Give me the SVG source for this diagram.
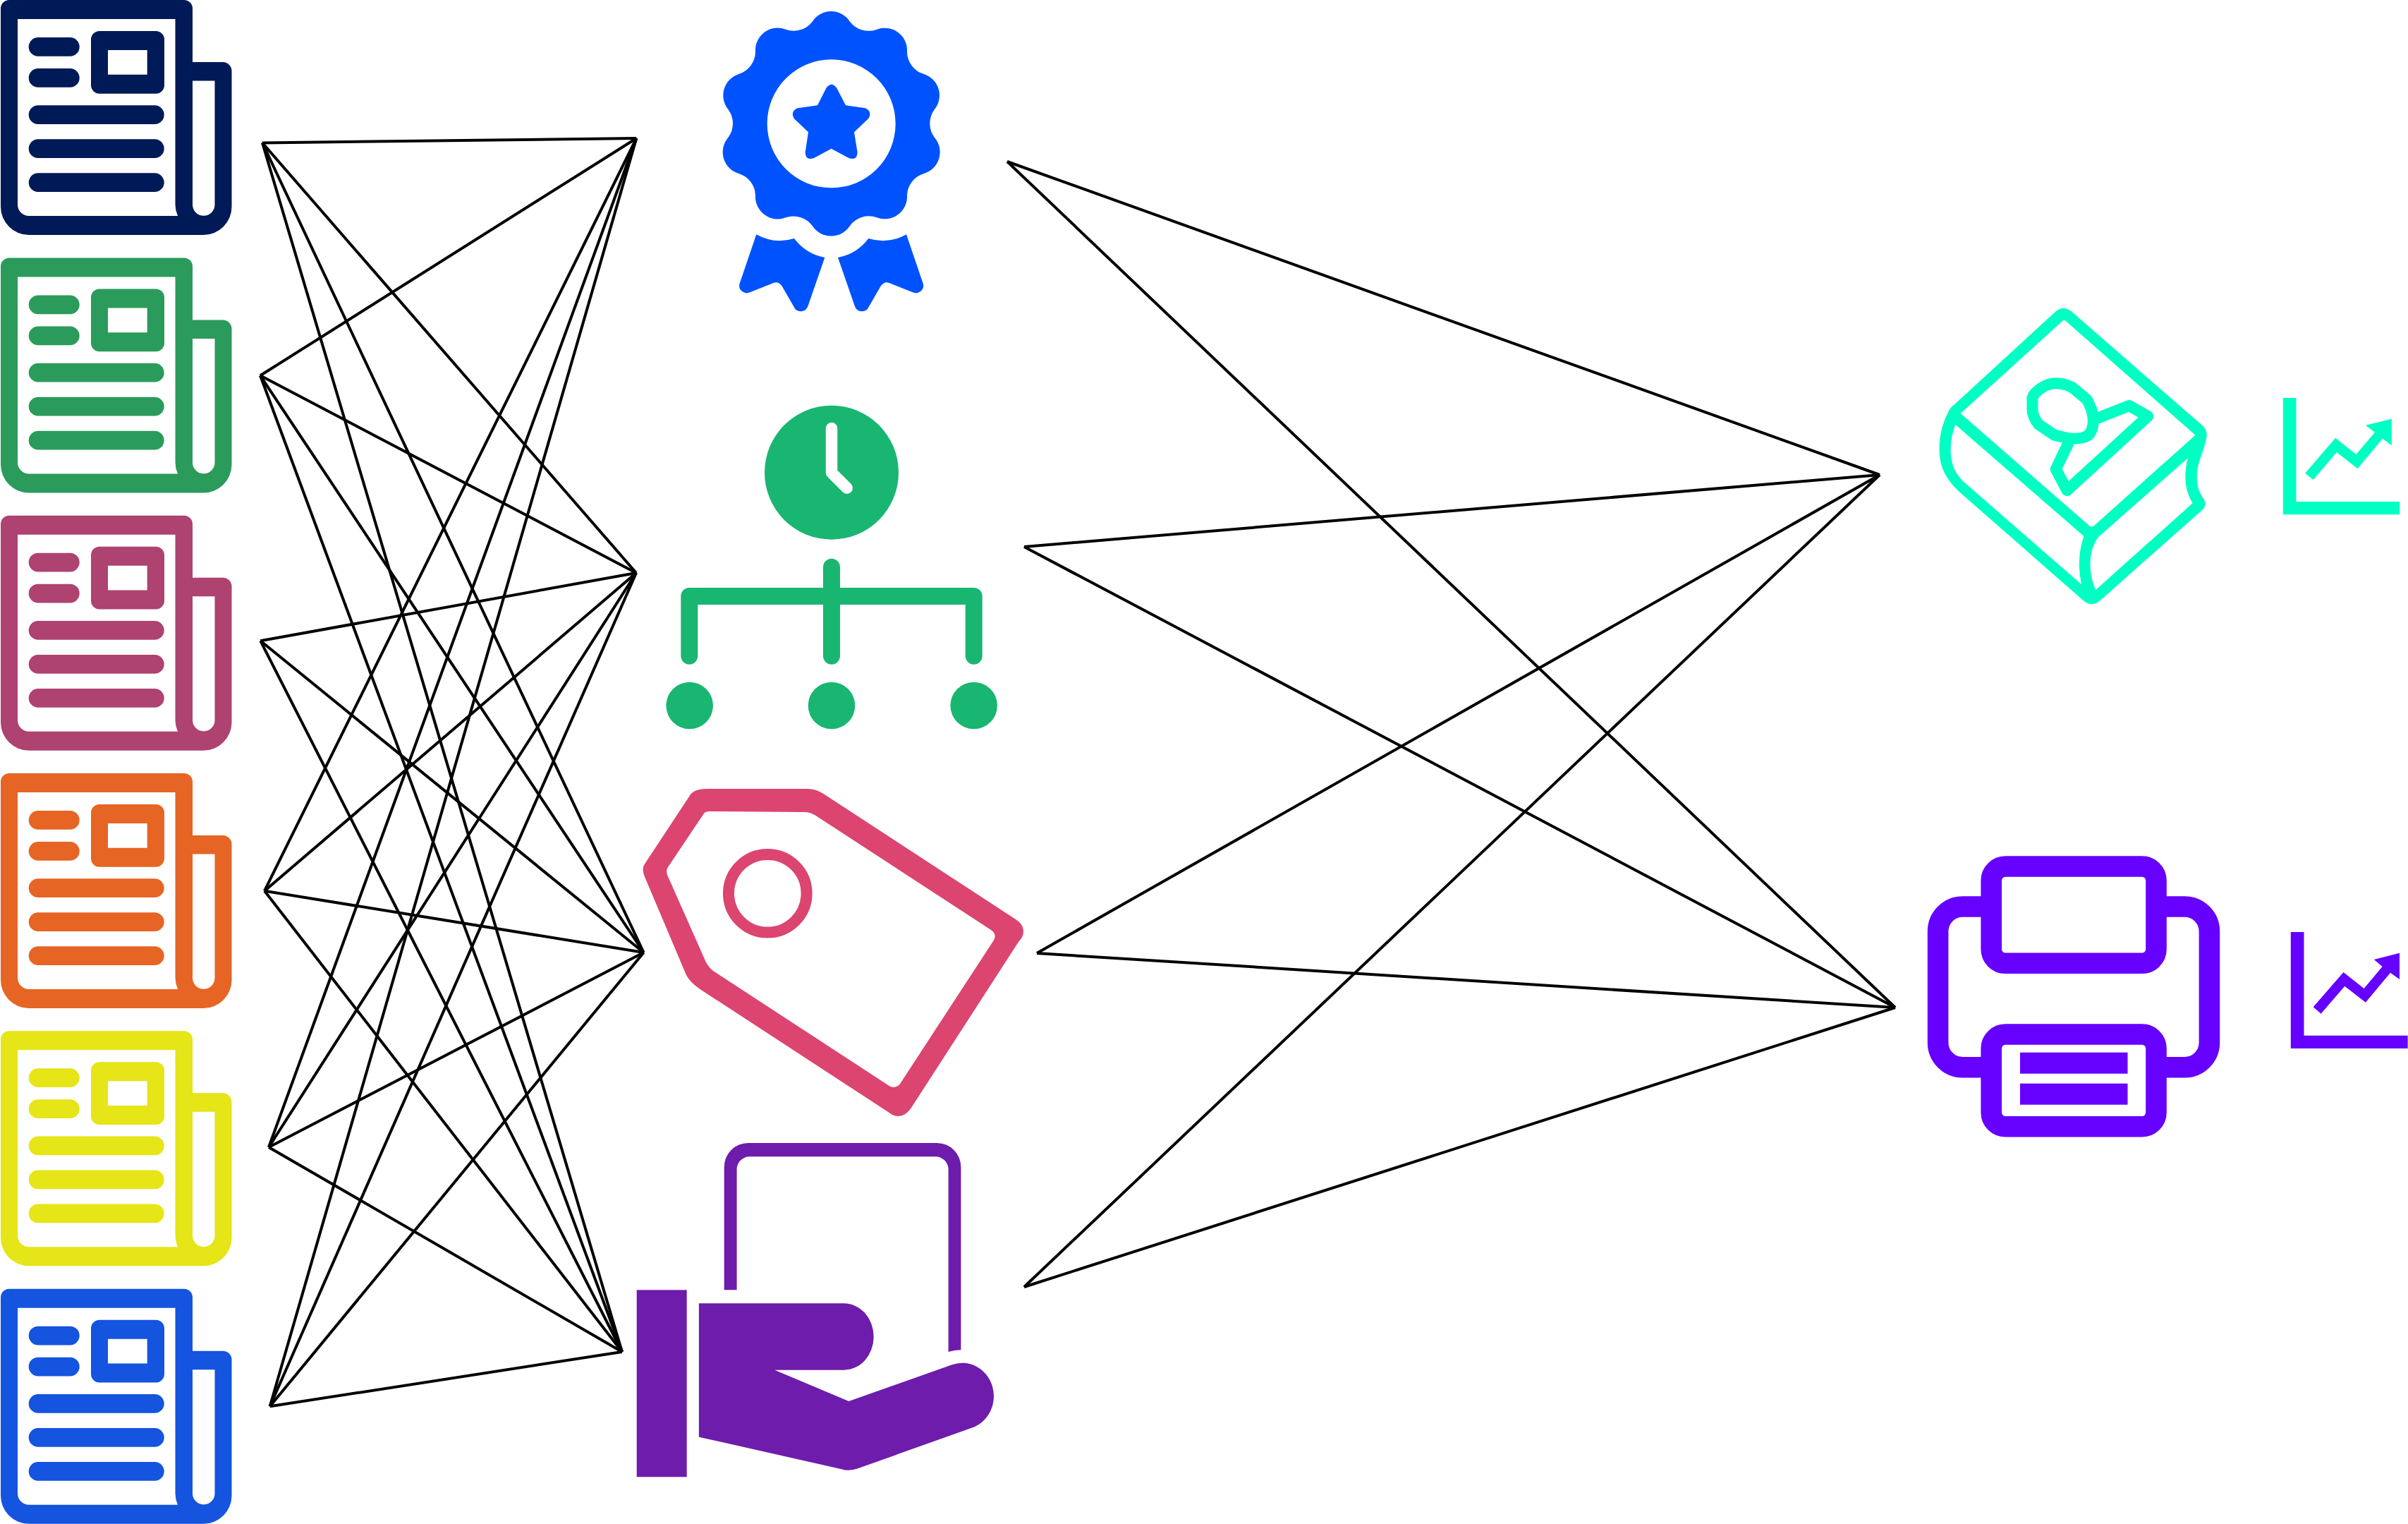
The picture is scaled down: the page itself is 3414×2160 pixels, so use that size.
<svg xmlns="http://www.w3.org/2000/svg" xmlns:xlink="http://www.w3.org/1999/xlink" width="3414" height="2160" viewBox="0 0 3414 2160">
<style>
.c line{stroke:#000;stroke-width:4;fill:none}
.eo{fill-rule:evenodd}
</style>
<defs>
<g id="paper">
<path class="eo" d="M13,0H261A12,12 0 0 1 273,12V88H316A12.5,12.5 0 0 1 328.5,100.5V293A40,40 0 0 1 288.5,333H41A40,40 0 0 1 1,293V12A12,12 0 0 1 13,0Z M25,27V290A16,16 0 0 0 41,306H252Q248.5,298 248.5,290V27Z M273,114.5V290A15.75,15.75 0 0 0 304.5,290V114.5Z M141,44H221A12,12 0 0 1 233,56V120.7A12,12 0 0 1 221,132.7H141A12,12 0 0 1 129,120.7V56A12,12 0 0 1 141,44Z M153,71V105.7H208.7V71Z"/>
<rect x="40.7" y="53" width="72" height="26.7" rx="13.3"/>
<rect x="40.7" y="97" width="72" height="26.7" rx="13.3"/>
<rect x="40.7" y="149.3" width="192" height="26.7" rx="13.3"/>
<rect x="40.7" y="197.3" width="192" height="26.7" rx="13.3"/>
<rect x="40.7" y="245.3" width="192" height="26.7" rx="13.3"/>
</g>
</defs>
<rect width="3414" height="2160" fill="#fff"/>
<g id="connectors" class="c">
<line x1="372" y1="202.5" x2="902.3" y2="196"/><line x1="372" y1="202.5" x2="902" y2="812"/><line x1="372" y1="202.5" x2="912.6" y2="1350"/><line x1="372" y1="202.5" x2="882" y2="1916"/>
<line x1="369" y1="532.3" x2="902.3" y2="196"/><line x1="369" y1="532.3" x2="902" y2="812"/><line x1="369" y1="532.3" x2="912.6" y2="1350"/><line x1="369" y1="532.3" x2="882" y2="1916"/>
<line x1="369.3" y1="908.3" x2="902" y2="812"/><line x1="369.3" y1="908.3" x2="912.6" y2="1350"/><line x1="369.3" y1="908.3" x2="882" y2="1916"/>
<line x1="375" y1="1262.7" x2="902.3" y2="196"/><line x1="375" y1="1262.7" x2="902" y2="812"/><line x1="375" y1="1262.7" x2="912.6" y2="1350"/><line x1="375" y1="1262.7" x2="882" y2="1916"/>
<line x1="381" y1="1626" x2="902.3" y2="196"/><line x1="381" y1="1626" x2="902" y2="812"/><line x1="381" y1="1626" x2="912.6" y2="1350"/><line x1="381" y1="1626" x2="882" y2="1916"/>
<line x1="382.7" y1="1993.3" x2="902.3" y2="196"/><line x1="382.7" y1="1993.3" x2="902" y2="812"/><line x1="382.7" y1="1993.3" x2="912.6" y2="1350"/><line x1="382.7" y1="1993.3" x2="882" y2="1916"/>
<line x1="1428" y1="229" x2="2665" y2="673"/><line x1="1428" y1="229" x2="2687" y2="1428"/>
<line x1="1452" y1="775" x2="2665" y2="673"/><line x1="1452" y1="775" x2="2687" y2="1428"/>
<line x1="1470" y1="1351" x2="2665" y2="673"/><line x1="1470" y1="1351" x2="2687" y2="1428"/>
<line x1="1452" y1="1824" x2="2665" y2="673"/><line x1="1452" y1="1824" x2="2687" y2="1428"/>
</g>
<g id="news1" fill="#001a57"><use xlink:href="#paper" href="#paper"/></g>
<g id="news2" fill="#2b9b5b" transform="translate(0,365.5)"><use xlink:href="#paper" href="#paper"/></g>
<g id="news3" fill="#ae4270" transform="translate(0,730.7)"><use xlink:href="#paper" href="#paper"/></g>
<g id="news4" fill="#e66524" transform="translate(0,1096)"><use xlink:href="#paper" href="#paper"/></g>
<g id="news5" fill="#e5e517" transform="translate(0,1461.3)"><use xlink:href="#paper" href="#paper"/></g>
<g id="news6" fill="#1454df" transform="translate(0,1826.7)"><use xlink:href="#paper" href="#paper"/></g>
<g id="badge" fill="#0052ff" transform="translate(1000,0) scale(.33333)">
<path class="eo" d="M455,92A95,95 0 0 1 615,92A100,100 0 0 0 730,125A95,95 0 0 1 858,220A100,100 0 0 0 930,315A95,95 0 0 1 975,465A100,100 0 0 0 975,585A95,95 0 0 1 930,738A100,100 0 0 0 858,830A95,95 0 0 1 730,925A100,100 0 0 0 615,960A95,95 0 0 1 455,960A100,100 0 0 0 342,925A95,95 0 0 1 213,830A100,100 0 0 0 142,738A95,95 0 0 1 97,585A100,100 0 0 0 97,465A95,95 0 0 1 142,315A100,100 0 0 0 213,220A95,95 0 0 1 342,125A100,100 0 0 0 455,92Z M263,526A273,273 0 1 0 809,526A273,273 0 1 0 263,526Z"/>
<path d="M515,373Q537,345 558,373L597,448L680,460Q712,475 693,505L633,562L647,648Q645,685 610,672L536,632L462,672Q427,685 425,648L438,562L378,505Q360,475 392,460L477,448Z"/>
<path d="M217,997Q295,1040 378,1014Q428,1080 508,1095L437,1300A32,32 0 0 1 377,1305L325,1215Q310,1195 290,1203L190,1243A32,32 0 0 1 145,1208Z"/>
<path d="M855,997Q777,1040 694,1014Q644,1080 564,1095L635,1300A32,32 0 0 0 695,1305L747,1215Q762,1195 782,1203L882,1243A32,32 0 0 0 927,1208Z"/>
</g>
<g id="org" fill="#19b671">
<circle cx="1179" cy="669.7" r="95"/>
<path d="M1179,607V670L1200.7,691.7" fill="none" stroke="#fff" stroke-width="16.5" stroke-linecap="round" stroke-linejoin="round"/>
<path d="M977.3,929.7V845H1380.7V929.7M1179,803.7V929.7" fill="none" stroke="#19b671" stroke-width="24" stroke-linecap="round" stroke-linejoin="round"/>
<circle cx="977.7" cy="1000" r="33.3"/><circle cx="1179" cy="1000" r="33.3"/><circle cx="1380.7" cy="1000" r="33.3"/>
</g>
<g id="tag" fill="#db4570">
<path class="eo" d="M977.7,1128Q983,1118 1002,1118H1146Q1158,1118 1172,1128L1440,1303Q1451,1310 1451,1320Q1451,1328 1444,1335L1292,1570Q1284,1582 1273.7,1582Q1267,1582 1260.7,1577L992.5,1402Q978,1392 973,1382L915,1245Q909,1232 913.7,1225Z M998,1153L947,1229Q944,1233 946,1240L1000.6,1363Q1004,1370 1011,1376L1260.7,1539Q1268,1544 1275.5,1537L1408.7,1333Q1414,1324 1405,1318L1155,1155Q1148,1151 1140.5,1151L1005.4,1150Q1000,1150 998,1153Z"/>
<circle cx="1088.3" cy="1266.3" r="55.3" fill="none" stroke="#db4570" stroke-width="16"/>
</g>
<g id="hand" fill="#6e1cac">
<rect x="902.7" y="1828.3" width="71" height="265"/>
<path d="M1026.7,1828.3V1654A34,34 0 0 1 1060.7,1620H1328.4A34,34 0 0 1 1362.4,1654V1913.3Q1353,1913.3 1344.6,1916V1657A18,18 0 0 0 1326.6,1639.3H1062.6A18,18 0 0 0 1044.6,1657V1828.3Z"/>
<path d="M990.9,1847.3H1196.5A42,47 0 0 1 1196.5,1941.7H1098.3L1203.4,1986L1349.7,1934.3A44.5,47 0 0 1 1379,2023.3L1217,2081Q1203.4,2086 1193,2082.3L990.9,2036.7Z"/>
</g>
<g id="book" fill="#00ffc2">
<path class="eo" d="M2912.5,443.3Q2925,430 2939,443.3L3122.7,603.3Q3130,610 3128.4,620C3125,640 3114.7,655 3114.7,675C3114.7,690 3118,698 3124.9,708.3Q3129,716 3123.5,721.7L2978.8,850Q2965.6,862 2953.2,850.7L2777.5,696.7C2757,677 2749.6,660 2749.6,636.7C2749.6,615 2755,597 2764.2,580Q2766,577 2770.9,573.3Z M2924.9,454.3L2779.7,586L2962,745Q2965.6,748 2969,745L3112.5,616.7L2928,454.3Q2926,453 2924.9,454.3Z M2772.2,601.7Q2765.6,620 2765.6,636.7C2765.6,655 2770,670 2786.4,685L2951,828.3Q2947.9,812 2947.9,800Q2947.9,778 2954.5,760Z M3101.9,649.3L2974.4,761.7Q2963.4,778 2963.4,798.3Q2963.4,820 2971.3,836L3108.5,713.3Q3098.3,696 3098.3,676.7Q3098.3,662 3101.9,649.3Z"/>
<path d="M2915.6,543.3C2927,544 2936,547 2941.2,551.7L2959,566.7C2963,575 2967.8,583 2967.8,596.7C2967.8,607 2965,612 2961,616.7C2955,621 2945,621.7 2939,621.7C2930,621.7 2920,618 2912.5,616.7L2890.4,601.7C2885,595 2881.5,588 2881.5,580V563.3C2885,555 2900,543 2915.6,543.3Z M2967.8,595L3018.7,575L3045.2,590L2930.6,695L2914.7,665L2932.4,628.3" fill="none" stroke="#00ffc2" stroke-width="16" stroke-linecap="round" stroke-linejoin="round"/>
</g>
<g id="chart1" fill="#00ffc2">
<path d="M3236.8,564H3255.4V711H3402.3V729.3H3236.8Z"/>
<path d="M3268.2,670.7L3311.2,620.7L3340.4,644L3366.9,612.7L3354,602.7L3390.8,593.7V631.3L3378,621.7L3342.6,664.3L3312.9,641L3279.7,680Z"/>
</g>
<g id="printer">
<rect x="2747.6" y="1285" width="384.8" height="227.7" rx="35" fill="#fff" stroke="#6600ff" stroke-width="29.6"/>
<rect x="2823.2" y="1228" width="233.8" height="137.3" rx="20" fill="#fff" stroke="#6600ff" stroke-width="29.6"/>
<rect x="2823.2" y="1466" width="233.8" height="130.7" rx="20" fill="#fff" stroke="#6600ff" stroke-width="29.6"/>
<rect x="2864" y="1491.7" width="152.5" height="30" fill="#6600ff"/>
<rect x="2864" y="1535.7" width="152.5" height="30" fill="#6600ff"/>
</g>
<g id="chart2" fill="#6600ff">
<path d="M3247.8,1321H3266.5V1467.7H3413.6V1486H3247.8Z"/>
<path d="M3279.7,1427.3L3322.5,1378L3351.6,1401L3377.6,1370L3365.8,1360L3402,1350.7V1388L3389,1378.7L3353.9,1420.7L3324.3,1397.7L3290.6,1436.7Z"/>
</g>
</svg>
